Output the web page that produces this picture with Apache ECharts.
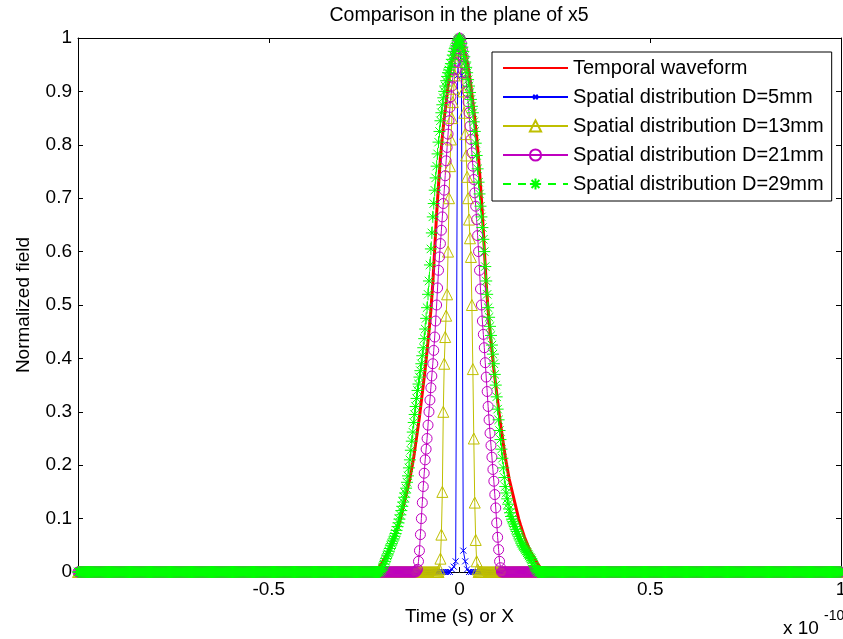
<!DOCTYPE html>
<html>
<head>
<meta charset="utf-8">
<title>Comparison in the plane of x5</title>
<script src="https://cdn.jsdelivr.net/npm/echarts@6/dist/echarts.min.js"></script>
<style>
  html, body { margin: 0; padding: 0; background: #fff; overflow: hidden; }
  #main { width: 843px; height: 639px; }
</style>
</head>
<body>
<div id="main"></div>
<script>
// time in units of 1e-10 s; every series is sampled on its own step from -1 to 1
var tMin = -1, tMax = 1;

var legendNames = ['Temporal waveform', 'Spatial distribution D=5mm', 'Spatial distribution D=13mm',
                   'Spatial distribution D=21mm', 'Spatial distribution D=29mm'];

// values: each list starts at its "start" time, zero outside
var temporalStart = -0.225, temporalStep = 0.005;
var temporalWave = [0, 0.002, 0.005, 0.01, 0.015, 0.021, 0.027, 0.033, 0.04, 0.048, 0.057, 0.066, 0.077, 0.088,
  0.1, 0.115, 0.13, 0.145, 0.16, 0.175, 0.195, 0.215, 0.24, 0.265, 0.29, 0.32, 0.35, 0.38, 0.415, 0.45, 0.49,
  0.54, 0.605, 0.67, 0.725, 0.775, 0.815, 0.85, 0.88, 0.91, 0.935, 0.955, 0.97, 0.985, 0.995,
  1.0,
  0.995, 0.985, 0.97, 0.955, 0.935, 0.91, 0.88, 0.85, 0.815, 0.775, 0.725, 0.67, 0.605, 0.54, 0.49, 0.45, 0.415,
  0.38, 0.35, 0.32, 0.29, 0.265, 0.24, 0.215, 0.195, 0.175, 0.16, 0.145, 0.13, 0.115, 0.1, 0.088, 0.077, 0.066,
  0.057, 0.048, 0.04, 0.033, 0.027, 0.021, 0.015, 0.01, 0.005, 0.002, 0];

var d5Start = -0.02, d5Step = 0.005;
var d5 = [0.005, 0.01, 0.02, 0.93, 1.0, 0.93, 0.04, 0.02, 0.005];

var d13Start = -0.055, d13Step = 0.0025;
var d13 = [0, 0.005, 0.025, 0.07, 0.15, 0.3, 0.39, 0.44, 0.48, 0.52, 0.6, 0.7, 0.76, 0.81, 0.85, 0.88, 0.905,
  0.93, 0.955, 0.97, 0.985, 0.995,
  1.0,
  0.99, 0.97, 0.935, 0.9, 0.86, 0.82, 0.78, 0.74, 0.7, 0.66, 0.625, 0.59, 0.5, 0.38, 0.25, 0.13, 0.06, 0.02,
  0.005, 0];

var d21Start = -0.115, d21Step = 0.0025;
var d21 = [0, 0.002, 0.005, 0.02, 0.04, 0.07, 0.1, 0.13, 0.16, 0.185, 0.21, 0.23, 0.25, 0.275, 0.3, 0.322,
  0.345, 0.367, 0.39, 0.415, 0.44, 0.47, 0.5, 0.532, 0.565, 0.59, 0.615, 0.64, 0.665, 0.69, 0.715, 0.742,
  0.77, 0.795, 0.82, 0.845, 0.87, 0.89, 0.91, 0.925, 0.94, 0.955, 0.97, 0.98, 0.99, 0.997,
  1.0,
  0.998, 0.99, 0.978, 0.965, 0.95, 0.935, 0.918, 0.9, 0.88, 0.86, 0.835, 0.81, 0.785, 0.76, 0.735, 0.71,
  0.685, 0.66, 0.63, 0.6, 0.565, 0.53, 0.5, 0.47, 0.445, 0.42, 0.392, 0.365, 0.338, 0.31, 0.285, 0.26, 0.237,
  0.215, 0.192, 0.17, 0.145, 0.12, 0.092, 0.065, 0.042, 0.02, 0.008, 0];

var d29Start = -0.21, d29Step = 0.0025;
var d29 = [0, 0.001, 0.003, 0.006, 0.01, 0.015, 0.02, 0.025, 0.03, 0.034, 0.039, 0.044, 0.049, 0.053, 0.058,
  0.062, 0.067, 0.072, 0.078, 0.085, 0.092, 0.099, 0.107, 0.115, 0.123, 0.131, 0.14, 0.148, 0.157, 0.168,
  0.18, 0.195, 0.21, 0.228, 0.245, 0.262, 0.28, 0.295, 0.31, 0.325, 0.34, 0.352, 0.365, 0.377, 0.39, 0.405,
  0.42, 0.437, 0.455, 0.475, 0.495, 0.52, 0.545, 0.575, 0.605, 0.635, 0.665, 0.69, 0.715, 0.738, 0.76, 0.783,
  0.805, 0.825, 0.845, 0.86, 0.875, 0.888, 0.9, 0.91, 0.92, 0.928, 0.935, 0.94, 0.945, 0.952, 0.96, 0.968,
  0.975, 0.98, 0.985, 0.99, 0.995, 0.998,
  1.0,
  0.997, 0.99, 0.983, 0.975, 0.965, 0.955, 0.945, 0.935, 0.922, 0.91, 0.898, 0.885, 0.872, 0.86, 0.843, 0.825,
  0.803, 0.78, 0.755, 0.73, 0.708, 0.685, 0.665, 0.645, 0.623, 0.6, 0.572, 0.545, 0.52, 0.495, 0.477, 0.46,
  0.443, 0.425, 0.408, 0.39, 0.37, 0.35, 0.328, 0.305, 0.285, 0.265, 0.248, 0.23, 0.213, 0.195, 0.177, 0.16,
  0.148, 0.137, 0.127, 0.118, 0.111, 0.104, 0.099, 0.094, 0.09, 0.085, 0.08, 0.076, 0.071, 0.067, 0.062,
  0.058, 0.054, 0.05, 0.047, 0.045, 0.042, 0.039, 0.036, 0.033, 0.03, 0.027, 0.025, 0.022, 0.017, 0.012,
  0.008, 0.004, 0.002, 0];

function onGrid(start, step, values) {
  var out = [];
  var n = Math.round((tMax - tMin) / step);
  for (var i = 0; i <= n; i++) {
    var t = +(tMin + i * step).toFixed(4);
    var k = Math.round((t - start) / step);
    out.push([t, (k >= 0 && k < values.length) ? values[k] : 0]);
  }
  return out;
}

var font = 'Liberation Sans, Arial, Helvetica, sans-serif';
var starPath = 'path://M6,0L6,12M0,6L12,6M1.8,1.8L10.2,10.2M10.2,1.8L1.8,10.2';
// small x inside a bigger empty box, so the legend mark stays small too
var crossPath = 'path://M0,0M20,20M6,6L14,14M14,6L6,14';

function marked(name, data, color, symbol, size, lineType) {
  return {
    name: name, type: 'line', data: data,
    symbol: symbol, symbolSize: size, showSymbol: true,
    lineStyle: { color: color, width: 1, type: lineType || 'solid' },
    itemStyle: { color: 'rgba(0,0,0,0)', borderColor: color, borderWidth: 1 },
    emphasis: { disabled: true }, silent: true, animation: false
  };
}

var axisLineStyle = { color: '#000', width: 1 };
var tickStyle = { show: true, inside: true, length: 5, lineStyle: { color: '#000' } };

var myChart = echarts.init(document.getElementById('main'));
myChart.setOption({
  animation: false,
  backgroundColor: '#fff',
  title: {
    text: 'Comparison in the plane of x5',
    left: 459, top: 6, padding: 0, textAlign: 'center',
    textStyle: { fontSize: 19.5, fontWeight: 'normal', color: '#000', fontFamily: font }
  },
  grid: { left: 78, top: 38, right: 2, bottom: 67, outerBoundsMode: 'none', containLabel: false },
  legend: {
    orient: 'vertical', left: 492, top: 52,
    padding: [6, 8, 7, 10],
    backgroundColor: '#fff', borderColor: '#000', borderWidth: 1, borderRadius: 0,
    itemWidth: 65, itemHeight: 14, itemGap: 9,
    textStyle: { fontSize: 20, lineHeight: 20, color: '#000', fontFamily: font },
    data: [
      { name: legendNames[0], itemStyle: { opacity: 0 } },
      legendNames[1], legendNames[2], legendNames[3], legendNames[4]
    ],
    selectedMode: false
  },
  xAxis: [{
    type: 'value', min: tMin, max: tMax, interval: 0.5,
    name: 'Time (s) or X', nameLocation: 'middle', nameGap: 35,
    nameTextStyle: { fontSize: 19, color: '#000', fontFamily: font },
    axisLine: { onZero: false, lineStyle: axisLineStyle },
    axisTick: tickStyle,
    axisLabel: { showMinLabel: false, fontSize: 19, margin: 8, color: '#000', fontFamily: font },
    splitLine: { show: false }
  }, {
    type: 'value', position: 'top', min: tMin, max: tMax, interval: 0.5,
    axisLine: { onZero: false, lineStyle: axisLineStyle },
    axisTick: tickStyle,
    axisLabel: { show: false }, splitLine: { show: false }
  }],
  yAxis: [{
    type: 'value', position: 'left', min: 0, max: 1, interval: 0.1,
    name: 'Normalized field', nameLocation: 'middle', nameGap: 45,
    nameTextStyle: { fontSize: 19, color: '#000', fontFamily: font },
    axisLine: { show: true, onZero: false, lineStyle: axisLineStyle },
    axisTick: tickStyle,
    axisLabel: { fontSize: 19, margin: 6, color: '#000', fontFamily: font },
    splitLine: { show: false }
  }, {
    type: 'value', position: 'right', min: 0, max: 1, interval: 0.1,
    axisLine: { show: true, onZero: false, lineStyle: axisLineStyle },
    axisTick: tickStyle,
    axisLabel: { show: false }, splitLine: { show: false }
  }],
  graphic: [
    { type: 'text', left: 783, top: 619, silent: true,
      style: { text: 'x 10', fontSize: 19, fill: '#000', fontFamily: font } },
    { type: 'text', left: 824, top: 609, silent: true,
      style: { text: '-10', fontSize: 14, fill: '#000', fontFamily: font } }
  ],
  series: [
    {
      name: legendNames[0], type: 'line', data: onGrid(temporalStart, temporalStep, temporalWave),
      symbol: 'none', lineStyle: { color: '#ff0000', width: 3 },
      itemStyle: { color: '#ff0000' },
      emphasis: { disabled: true }, silent: true, animation: false
    },
    marked(legendNames[1], onGrid(d5Start, d5Step, d5), '#0000ff', crossPath, 15),
    marked(legendNames[2], onGrid(d13Start, d13Step, d13), '#bfbf00', 'triangle', 11),
    marked(legendNames[3], onGrid(d21Start, d21Step, d21), '#bf00bf', 'circle', 10),
    marked(legendNames[4], onGrid(d29Start, d29Step, d29), '#00ff00', starPath, 12, [8, 7])
  ]
});
</script>
</body>
</html>
